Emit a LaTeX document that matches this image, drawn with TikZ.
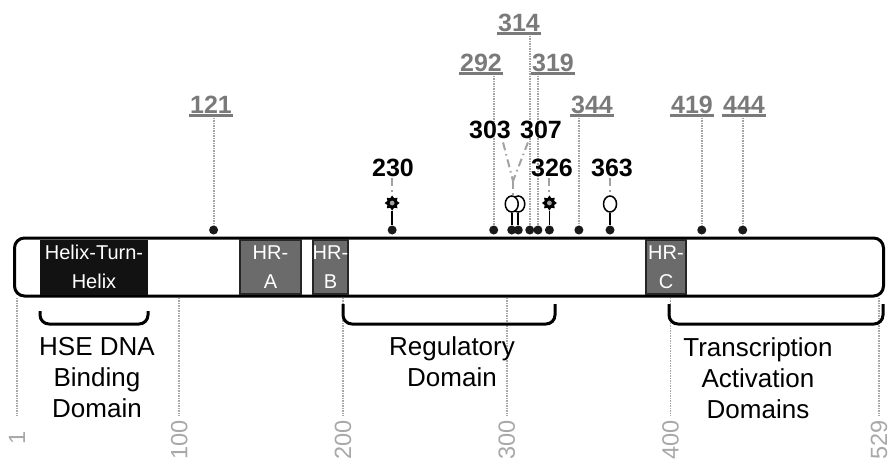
\documentclass[tikz,border=0pt]{standalone}
\usepackage{fontspec}
\setmainfont{Liberation Sans}
\usepackage{tikz}
\usetikzlibrary{positioning,shapes.geometric,calc}
\definecolor{numgray}{HTML}{7A7A7A}
\definecolor{linegray}{HTML}{A2A2A2}
\definecolor{hrgray}{HTML}{6B6B6B}
\definecolor{tickgray}{HTML}{A8A8A8}
\newcommand{\rpos}[1]{17+(#1-1)*1.6382}

\begin{document}
\begin{tikzpicture}[x=1pt, y=-1pt,
  dot/.style={circle, fill=black!90, minimum size=9pt, inner sep=0pt},
  greynum/.style={font=\fontsize{25}{30}\selectfont\bfseries, text=numgray, inner sep=0pt, anchor=base},
  blacknum/.style={font=\fontsize{25}{30}\selectfont\bfseries, text=black, inner sep=0pt, anchor=base},
  uline/.style={numgray, line width=3pt},
  resline/.style={linegray, line width=2pt, dash pattern=on 1.5pt off 1pt},
  linker/.style={linegray, line width=2pt, dash pattern=on 8pt off 4pt on 1.5pt off 4pt},
  stem/.style={black, line width=1.8pt},
  lolli/.style={ellipse, draw=black, line width=1.5pt, fill=white, minimum width=13pt, minimum height=16pt, inner sep=0pt},
  sun/.style={star, star points=8, star point ratio=1.45, fill=black, minimum size=15pt, inner sep=0pt},
  hrbox/.style={fill=hrgray, draw=black!85, line width=1.8pt, minimum height=54pt, inner sep=0pt, text=white, align=center, font=\fontsize{20}{29}\selectfont},
  domtext/.style={align=center, font=\fontsize{26}{31}\selectfont},
  brace/.style={line width=3pt, rounded corners=9pt},
  tickline/.style={tickgray, line width=1.5pt, dash pattern=on 1.5pt off 1pt},
  ticklabel/.style={rotate=90, anchor=east, text=tickgray, inner sep=0pt, font=\fontsize{23.5}{28}\selectfont}
]
\useasboundingbox (0,0) rectangle (892,461);

% protein bar
\node[draw, line width=3pt, rounded corners=10pt, fill=white, minimum width=869pt, minimum height=58pt, inner sep=0pt] (bar) at (449,267) {};

% residue scale below the bar
\foreach \r/\tx/\ty in {1/17/431, 100/179.2/420, 200/343/420, 300/506.8/420, 400/670.6/420, 529/879/420} {
  \node[ticklabel] (t\r) at (\tx,\ty) {\r};
  \draw[tickline] (bar.south -| t\r.east) -- (t\r.east |- 0,416);
}

% domains inside the bar
\node[fill=black!93, minimum width=108pt, minimum height=55pt, inner sep=0pt, text=white, align=center, font=\fontsize{20}{29}\selectfont] (hth) at (94,267) {Helix-Turn-\\Helix};
\node[hrbox, minimum width=61pt] (hra) at (270.5,267) {HR-\\A};
\node[hrbox, minimum width=33pt] (hrb) at (330.5,267) {HR-\\B};
\node[hrbox, minimum width=40pt] (hrc) at (666,267) {HR-\\C};

% sites on the bar
\foreach \r in {121,230,292,303,307,314,319,326,344,363,419,444}
  \node[dot] (d\r) at ({\rpos{\r}},230) {};

% grey labels with dotted drop lines
\foreach \r/\lx/\ly in {121/211/113, 292/481/71, 314/519/31, 319/553/71, 344/592/113, 419/692/113, 444/744/113} {
  \node[greynum] (l\r) at (\lx,\ly) {\r};
  \draw[uline] ($(l\r.base west)+(-1,2.5)$) -- ($(l\r.base east)+(1,2.5)$);
  \draw[resline] ($(l\r.base west -| d\r)+(0,4.5)$) -- (d\r);
}

% symbols on stems
\node[sun] (s230) at ({\rpos{230}},203) {};
\node[sun] (s326) at ({\rpos{326}},203) {};
\node[lolli] (c307) at ({\rpos{307}},204) {};
\node[lolli] (c303) at ({\rpos{303}},204) {};
\node[lolli] (c363) at ({\rpos{363}},204) {};
\fill[linegray] (s230) circle (2.4pt);
\fill[linegray] (s326) circle (2.4pt);
\foreach \r in {230,326} \draw[stem] (s\r) -- (d\r);
\foreach \r in {303,307,363} \draw[stem] (c\r) -- (d\r);

% black labels
\node[blacknum] (l230) at (393,176) {230};
\node[blacknum] (l303) at (490,138) {303};
\node[blacknum] (l307) at (541,138) {307};
\node[blacknum] (l326) at (552,176) {326};
\node[blacknum] (l363) at (612,176) {363};
\draw[linker, shorten <=2pt] (l230.south -| s230) -- (s230.north);
\draw[linker, shorten <=2pt] (l326.south -| s326) -- (s326.north);
\draw[linker, shorten <=2pt] (l363.south -| c363) -- (c363.north);
\coordinate (vjoin) at (513,181);
\draw[linker] ($(l303.south east)+(-8,4)$) -- (vjoin);
\draw[linker] ($(l307.south west)+(8,4)$) -- (vjoin);
\draw[linker] (vjoin) -- (vjoin |- c303.north);

% domain brackets and names
\draw[brace] (40,311) -- (40,324) -- (148,324) -- (148,311);
\draw[brace] (343,304) -- (343,324) -- (555,324) -- (555,304);
\draw[brace] (669,304) -- (669,324) -- (883,324) -- (883,304);
\node[domtext] (hse) at (97,378) {HSE DNA\\Binding\\Domain};
\node[domtext] (reg) at (452,362) {Regulatory\\Domain};
\node[domtext] (tad) at (758,378) {Transcription\\Activation\\Domains};
\end{tikzpicture}
\end{document}
